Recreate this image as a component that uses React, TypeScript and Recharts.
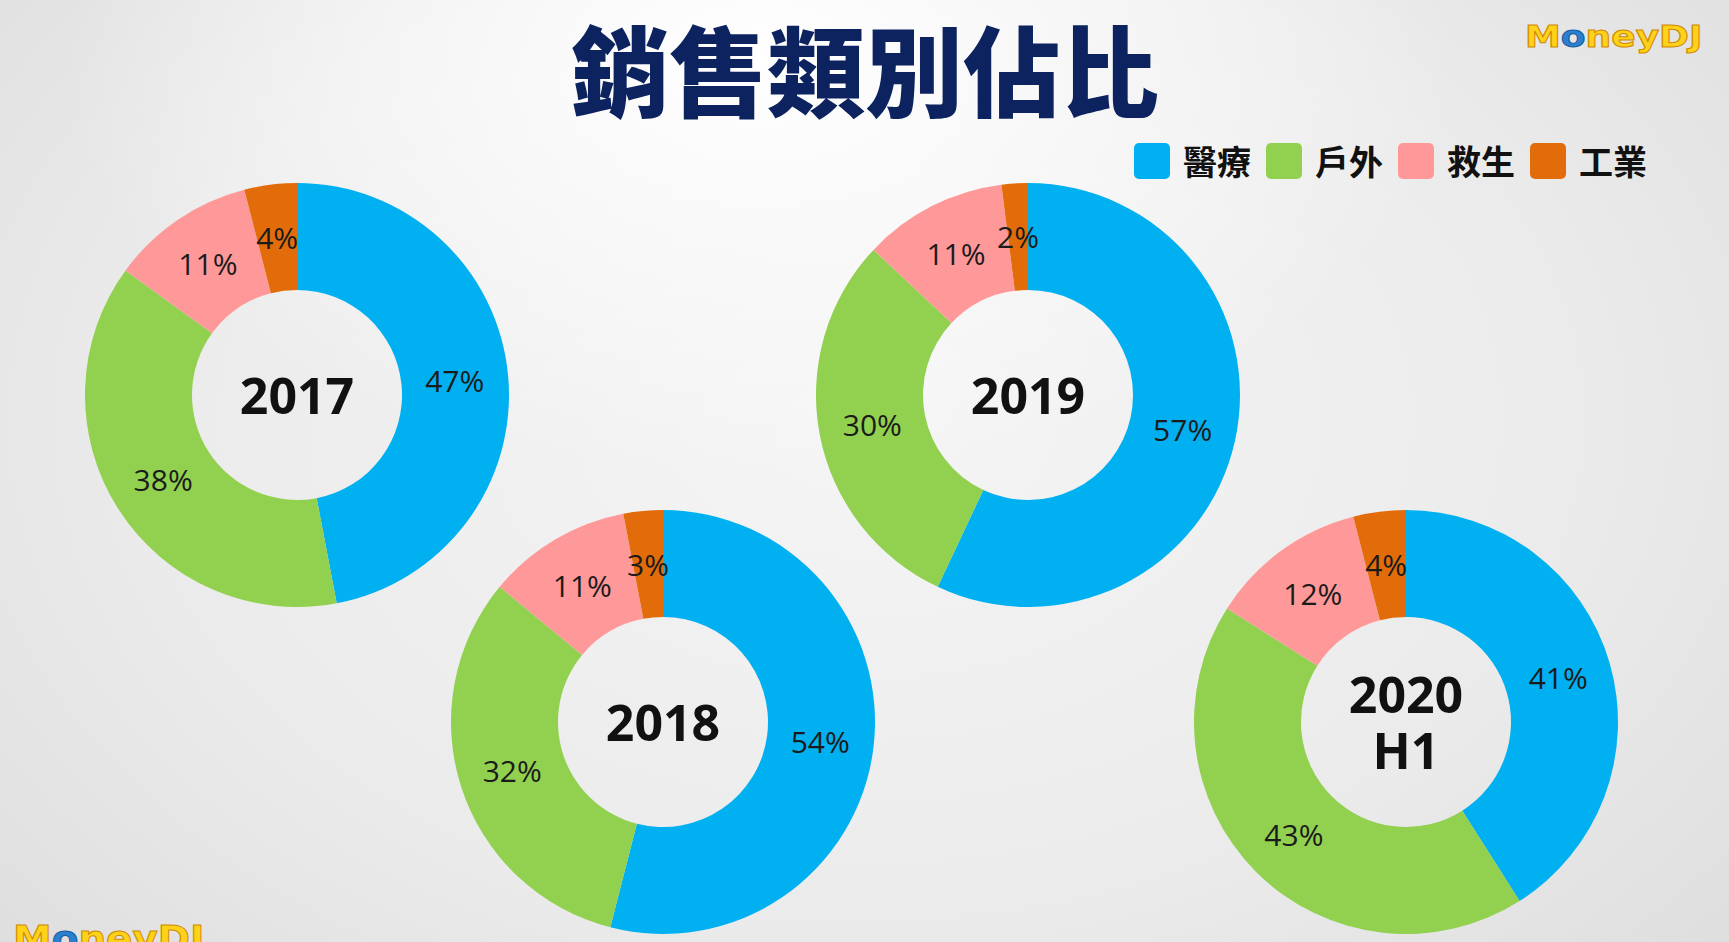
import React from "react"
import { PieChart, Pie, Cell, Label } from "recharts"

const categories = ["醫療", "戶外", "救生", "工業"]
const colors = ["#00B0F0", "#92D050", "#FF9999", "#E36C0A"]
const years = ["2017", "2018", "2019", "2020 H1"]
const medical = [47, 54, 57, 41]
const outdoor = [38, 32, 30, 43]
const rescue = [11, 11, 11, 12]
const industrial = [4, 3, 2, 4]

// donut centres on the slide (layout only)
const centers = [
  { cx: 297, cy: 395 },
  { cx: 663, cy: 722 },
  { cx: 1028, cy: 395 },
  { cx: 1406, cy: 722 },
]

const RAD = Math.PI / 180
const W = 1729
const H = 942

const pctLabel = (props: any) => {
  const { cx, cy, midAngle, innerRadius, outerRadius, value } = props
  const r = (innerRadius + outerRadius) / 2
  const x = cx + r * Math.cos(-midAngle * RAD)
  const y = cy + r * Math.sin(-midAngle * RAD)
  return (
    <text
      x={x}
      y={y}
      textAnchor="middle"
      dominantBaseline="central"
      fill="#1b1b1b"
      fontSize={30}
      fontFamily="'Open Sans', sans-serif"
    >
      {value}%
    </text>
  )
}

// centre text of each donut, split on the space for "2020 H1"
const yearLabel = (year: string, cx: number, cy: number) => () => {
  const lines = year.split(" ")
  const step = 56
  const start = cy - ((lines.length - 1) * step) / 2
  return (
    <text
      textAnchor="middle"
      dominantBaseline="central"
      fill="#111"
      fontSize={50}
      fontWeight={700}
      fontFamily="'Open Sans', sans-serif"
    >
      {lines.map((l, i) => (
        <tspan key={i} x={cx} y={start + i * step}>
          {l}
        </tspan>
      ))}
    </text>
  )
}

const logoStyle: React.CSSProperties = {
  position: "absolute",
  fontFamily: "'DejaVu Sans', sans-serif",
  fontWeight: 700,
  lineHeight: 1,
  color: "#FFD21A",
  WebkitTextStroke: "1px #D08A00",
  transformOrigin: "left top",
  whiteSpace: "nowrap",
}

export default function App() {
  const pies = years.map((year, i) => ({
    year,
    data: [
      { name: categories[0], value: medical[i] },
      { name: categories[1], value: outdoor[i] },
      { name: categories[2], value: rescue[i] },
      { name: categories[3], value: industrial[i] },
    ],
  }))

  return (
    <div
      style={{
        position: "absolute",
        left: 0,
        top: 0,
        width: W,
        height: H,
        overflow: "hidden",
        background:
          "radial-gradient(ellipse 700px 420px at 760px 60px, #ffffff 0%, rgba(255,255,255,0) 100%), radial-gradient(ellipse 1300px 900px at 860px 420px, #f5f5f5 0%, #ebebeb 55%, #dadada 100%)",
      }}
    >
      {/* title */}
      <div
        style={{
          position: "absolute",
          left: 865,
          top: 66,
          transform: "translate(-50%, -50%)",
          fontFamily: "'Noto Sans CJK TC', sans-serif",
          fontWeight: 900,
          fontSize: 98,
          lineHeight: 1,
          color: "#0C2360",
          whiteSpace: "nowrap",
        }}
      >
        銷售類別佔比
      </div>

      {/* logo */}
      <div style={{ ...logoStyle, left: 1525, top: 22, fontSize: 30, transform: "scaleX(1.2)" }}>
        M<span style={{ color: "#2a7fd0", WebkitTextStroke: "1px #1b5c9c" }}>o</span>neyDJ
      </div>
      <div style={{ ...logoStyle, left: 13, top: 921, fontSize: 36, transform: "scaleX(1.08)" }}>
        M<span style={{ color: "#2a7fd0", WebkitTextStroke: "1px #1b5c9c" }}>o</span>neyDJ
      </div>

      {/* legend */}
      <div style={{ position: "absolute", left: 1134, top: 143, display: "flex", alignItems: "center" }}>
        {categories.map((c, i) => (
          <div key={c} style={{ display: "flex", alignItems: "center", width: 132 }}>
            <div style={{ width: 36, height: 36, borderRadius: 5, background: colors[i] }} />
            <span
              style={{
                marginLeft: 13,
                fontFamily: "'Noto Sans CJK TC', sans-serif",
                fontWeight: 700,
                fontSize: 34,
                lineHeight: "36px",
                color: "#111",
              }}
            >
              {c}
            </span>
          </div>
        ))}
      </div>

      <PieChart
        width={W}
        height={H}
        margin={{ top: 0, right: 0, bottom: 0, left: 0 }}
        style={{ position: "absolute", left: 0, top: 0 }}
      >
        {pies.map((p, i) => (
          <Pie
            key={p.year}
            data={p.data}
            dataKey="value"
            nameKey="name"
            cx={centers[i].cx}
            cy={centers[i].cy}
            innerRadius={105}
            outerRadius={212}
            startAngle={90}
            endAngle={-270}
            stroke="none"
            label={pctLabel}
            labelLine={false}
            isAnimationActive={false}
          >
            {p.data.map((d, j) => (
              <Cell key={d.name} fill={colors[j]} />
            ))}
            <Label position="center" content={yearLabel(p.year, centers[i].cx, centers[i].cy)} />
          </Pie>
        ))}
      </PieChart>
    </div>
  )
}
